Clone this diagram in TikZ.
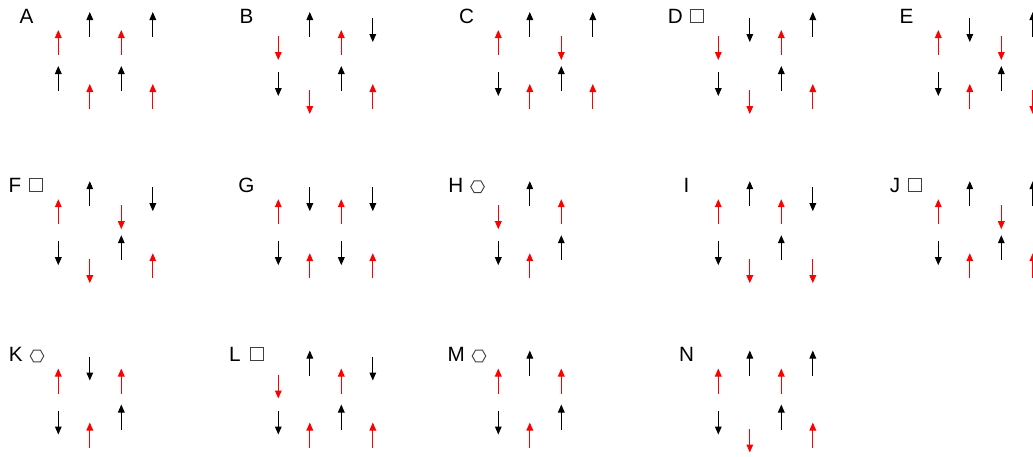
\documentclass[tikz,border=0pt]{standalone}
\usepackage{fontspec}
\setmainfont{Liberation Sans}
\usetikzlibrary{arrows.meta}

\tikzset{
  spin/.style={line width=0.75pt, -{Triangle[length=6pt,width=5pt]}},
  panellabel/.style={inner sep=0pt, font=\fontsize{15.5}{18}\selectfont},
  sqsym/.style={draw=black!75, line width=0.7pt, minimum size=9.8pt, inner sep=0pt},
  hexsym/.style={draw=black!75, line width=0.7pt},
}

% one row of spins: #1,#2 panel origin; #3,#4 base line of odd/even sites;
% #5,#6 colour of odd/even sites; #7 list of directions (u or d)
\newcommand\spinrow[7]{%
  \foreach \d [count=\k] in {#7}{%
    \pgfmathsetmacro\sx{#1+58.3+31.5*(\k-1)}%
    \ifodd\k\relax \def\sb{#3}\def\sc{#5}\else \def\sb{#4}\def\sc{#6}\fi
    \pgfmathsetmacro\sy{#2+\sb}%
    \if\d u%
      \draw[spin, color=\sc] (\sx,\sy) -- (\sx,\sy-25);%
    \else
      \draw[spin, color=\sc] (\sx,\sy-19) -- (\sx,\sy+5);%
    \fi
  }}

% a two-row zigzag lattice: #1,#2 origin; #3 upper row; #4 lower row
\newcommand\lattice[4]{%
  \spinrow{#1}{#2}{55}{37}{red}{black}{#3}%
  \spinrow{#1}{#2}{91}{109}{black}{red}{#4}}

\begin{document}
\begin{tikzpicture}[x=0.75pt, y=-0.75pt]
  \useasboundingbox (0,0) rectangle (1033,457);
  \clip (0,0) rectangle (1033,457);

  % ---- first row of panels
  \node[panellabel, anchor=base] (labA) at (26.5,23) {A};
  \lattice{0}{0}{u,u,u,u}{u,u,u,u}

  \node[panellabel, anchor=base] (labB) at (246.5,23) {B};
  \lattice{220}{0}{d,u,u,d}{d,d,u,u}

  \node[panellabel, anchor=base] (labC) at (466.5,23) {C};
  \lattice{440}{0}{u,u,d,u}{d,u,u,u}

  \node[panellabel, anchor=base east] (labD) at (683,23) {D};
  \node[sqsym] (symD) at (697.2,15.5) {};
  \lattice{660}{0}{d,d,u,u}{d,d,u,u}

  \node[panellabel, anchor=base] (labE) at (906.5,23) {E};
  \lattice{880}{0}{u,d,d,u}{d,u,u,d}

  % ---- second row of panels
  \node[panellabel, anchor=base east] (labF) at (21.5,192.2) {F};
  \node[sqsym] (symF) at (36.3,184.7) {};
  \lattice{0}{169.2}{u,u,d,d}{d,d,u,u}

  \node[panellabel, anchor=base] (labG) at (246.5,192.2) {G};
  \lattice{220}{169.2}{u,d,u,d}{d,u,d,u}

  \node[panellabel, anchor=base east] (labH) at (463.5,192.2) {H};
  \coordinate (symH) at (477.5,186.7);
  \draw[hexsym, shift={(symH)}] (0:6.8) -- (60:6.8) -- (120:6.8) -- (180:6.8) -- (240:6.8) -- (300:6.8) -- cycle;
  \lattice{440}{169.2}{d,u,u}{d,u,u}

  \node[panellabel, anchor=base] (labI) at (686.5,192.2) {I};
  \lattice{660}{169.2}{u,u,u,d}{d,d,u,d}

  \node[panellabel, anchor=base east] (labJ) at (900.5,192.2) {J};
  \node[sqsym] (symJ) at (914.5,184.7) {};
  \lattice{880}{169.2}{u,u,d,u}{d,u,u,u}

  % ---- third row of panels
  \node[panellabel, anchor=base east] (labK) at (23,361.5) {K};
  \coordinate (symK) at (37,356);
  \draw[hexsym, shift={(symK)}] (0:6.8) -- (60:6.8) -- (120:6.8) -- (180:6.8) -- (240:6.8) -- (300:6.8) -- cycle;
  \lattice{0}{338.5}{u,d,u}{d,u,u}

  \node[panellabel, anchor=base east] (labL) at (241,361.5) {L};
  \node[sqsym] (symL) at (256.5,354) {};
  \lattice{220}{338.5}{d,u,u,d}{d,u,u,u}

  \node[panellabel, anchor=base east] (labM) at (465,361.5) {M};
  \coordinate (symM) at (479,356);
  \draw[hexsym, shift={(symM)}] (0:6.8) -- (60:6.8) -- (120:6.8) -- (180:6.8) -- (240:6.8) -- (300:6.8) -- cycle;
  \lattice{440}{338.5}{u,u,u}{d,u,u}

  \node[panellabel, anchor=base] (labN) at (686.5,361.5) {N};
  \lattice{660}{338.5}{u,u,u,u}{d,d,u,u}
\end{tikzpicture}
\end{document}
